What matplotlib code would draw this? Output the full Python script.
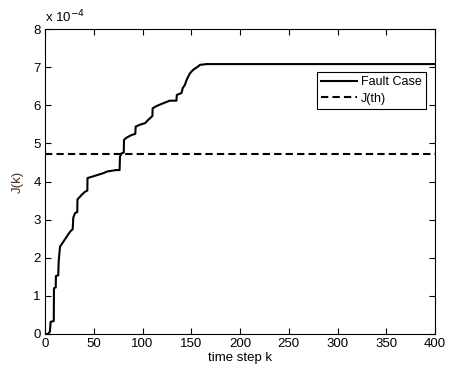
import matplotlib
matplotlib.use("Agg")
import matplotlib.pyplot as plt
from matplotlib.ticker import FuncFormatter

plt.rcParams['font.family'] = ['Liberation Sans', 'DejaVu Sans']

# Fault case J(k) curve breakpoints (k, J in units of 1e-4)
k_vals = [0, 3, 5, 5.8, 9, 9.2, 11, 11.2, 13.6, 14, 15.4, 18.8, 22.2, 25.6, 28.4, 29, 30.8,
          33.1, 33.3, 37.6, 41, 43.4, 43.6, 51.3, 60, 63.4, 72.8, 76.5, 76.9, 78.6, 80.8, 81,
          83.6, 88.9, 92.6, 93, 97.4, 102.6, 106, 109.4, 110.2, 110.4, 114.5, 121, 128, 134.8,
          135.2, 140, 141.3, 143.6, 145.3, 148.7, 152, 157.2, 159, 165.9, 400]
j_vals = [0, 0, 0.06, 0.32, 0.34, 1.2, 1.22, 1.52, 1.54, 1.9, 2.29, 2.42, 2.55, 2.68, 2.75, 3.05, 3.17,
          3.2, 3.53, 3.65, 3.73, 3.76, 4.09, 4.15, 4.22, 4.26, 4.30, 4.30, 4.65, 4.74, 4.76, 5.09,
          5.15, 5.22, 5.25, 5.44, 5.49, 5.53, 5.62, 5.70, 5.72, 5.92, 5.98, 6.05, 6.12, 6.12,
          6.27, 6.32, 6.45, 6.54, 6.67, 6.84, 6.93, 7.02, 7.06, 7.08, 7.08]
scale = 1e-4
j_th = 4.73
x_ticks = [0, 50, 100, 150, 200, 250, 300, 350, 400]
y_ticks = [0, 1, 2, 3, 4, 5, 6, 7, 8]

fig = plt.figure(figsize=(4.51, 3.69), dpi=100)
ax = fig.add_axes([45/451, 35/369, 390/451, 305/369])

ax.plot(k_vals, [v * scale for v in j_vals], color='black', lw=1.5, label='Fault Case')
ax.axhline(j_th * scale, color='black', lw=1.5, ls=(0, (3.5, 2)), label='J(th)')

ax.set_xlim(0, 400)
ax.set_ylim(0, 8 * scale)
ax.set_xticks(x_ticks)
ax.set_yticks([t * scale for t in y_ticks])
ax.yaxis.set_major_formatter(FuncFormatter(lambda v, p: f"{v/scale:.0f}"))
ax.tick_params(direction='in', top=True, right=True, length=4, labelsize=9.5, pad=3)
for s in ax.spines.values():
    s.set_linewidth(0.8)

ax.set_xlabel('time step k', fontsize=9.5, labelpad=1)
ax.set_ylabel('J(k)', fontsize=9.5, color='#4a3020', labelpad=7)
ax.text(0.0, 1.012, r'x 10$^{-4}$', transform=ax.transAxes, fontsize=9.5, ha='left', va='bottom')

leg = ax.legend(loc='upper right', bbox_to_anchor=(0.977, 0.859), fontsize=9, frameon=True,
                fancybox=False, edgecolor='black', framealpha=1, handlelength=2.9,
                borderpad=0.35, labelspacing=0.35, handletextpad=0.3, borderaxespad=0)
leg.get_frame().set_linewidth(0.8)

fig.savefig('out.png', dpi=100)
